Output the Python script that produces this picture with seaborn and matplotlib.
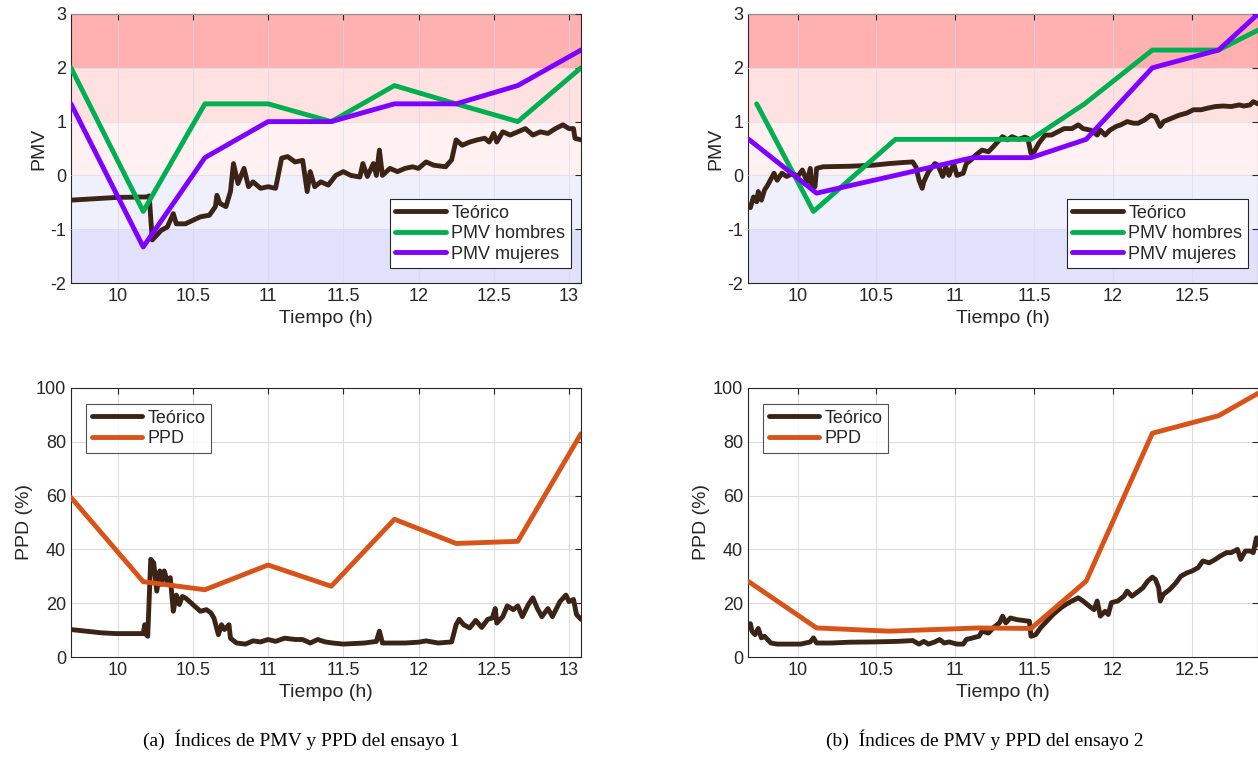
import numpy as np
import pandas as pd
import matplotlib
matplotlib.use("Agg")
import matplotlib.pyplot as plt
import seaborn as sns

# ---- ensayo 1 ----
t1_votos = [9.69, 10.17, 10.58, 11.0, 11.42, 11.84, 12.25, 12.66, 13.08]
pmv_h1 = [2.0, -0.67, 1.33, 1.33, 1.0, 1.67, 1.33, 1.0, 2.0]
pmv_m1 = [1.33, -1.33, 0.33, 1.0, 1.0, 1.33, 1.33, 1.67, 2.33]
ppd1 = [59.3, 28.0, 25.0, 34.2, 26.3, 51.2, 42.2, 43.0, 83.0]

t1_teo = [9.69, 9.99, 10.2, 10.21, 10.23, 10.29, 10.33, 10.37, 10.39, 10.45, 10.55, 10.61,
          10.65, 10.66, 10.68, 10.72, 10.75, 10.77, 10.8, 10.84, 10.87, 10.9, 10.95, 11.0,
          11.05, 11.09, 11.13, 11.18, 11.23, 11.26, 11.28, 11.31, 11.35, 11.4, 11.45, 11.5,
          11.55, 11.61, 11.63, 11.66, 11.7, 11.72, 11.74, 11.76, 11.81, 11.86, 11.91, 11.96,
          12.0, 12.05, 12.1, 12.18, 12.22, 12.25, 12.29, 12.34, 12.39, 12.44, 12.47, 12.5,
          12.52, 12.56, 12.61, 12.66, 12.71, 12.76, 12.81, 12.86, 12.91, 12.96, 13.0, 13.03,
          13.04, 13.08]
pmv_teo1 = [-0.46, -0.41, -0.40, -0.38, -1.2, -1.02, -0.96, -0.71, -0.9, -0.9, -0.77, -0.74,
            -0.58, -0.37, -0.52, -0.58, -0.3, 0.22, -0.15, 0.13, -0.21, -0.12, -0.24, -0.21,
            -0.24, 0.32, 0.35, 0.25, 0.28, -0.3, 0.07, -0.21, -0.12, -0.18, 0.0, 0.07,
            0.0, -0.03, 0.22, -0.02, 0.22, 0.0, 0.47, 0.0, 0.13, 0.07, 0.13, 0.16,
            0.13, 0.25, 0.19, 0.16, 0.29, 0.66, 0.56, 0.62, 0.66, 0.69, 0.62, 0.78,
            0.62, 0.81, 0.75, 0.81, 0.87, 0.75, 0.81, 0.78, 0.87, 0.94, 0.87, 0.87,
            0.69, 0.66]

t1_teo_ppd = [9.69, 9.89, 9.99, 10.17, 10.18, 10.19, 10.2, 10.22, 10.24, 10.26, 10.28, 10.29,
              10.31, 10.33, 10.35, 10.37, 10.39, 10.41, 10.43, 10.45, 10.5, 10.55, 10.59, 10.62,
              10.64, 10.67, 10.69, 10.71, 10.74, 10.75, 10.79, 10.85, 10.9, 10.95, 11.0, 11.05,
              11.11, 11.18, 11.23, 11.28, 11.33, 11.38, 11.43, 11.5, 11.64, 11.72, 11.74, 11.76,
              11.81, 11.91, 12.0, 12.05, 12.13, 12.22, 12.25, 12.27, 12.3, 12.34, 12.38, 12.42,
              12.46, 12.49, 12.51, 12.52, 12.56, 12.59, 12.63, 12.66, 12.69, 12.73, 12.76, 12.79,
              12.82, 12.86, 12.89, 12.94, 12.98, 13.0, 13.03, 13.05, 13.08]
ppd_teo1 = [10.2, 9.0, 8.7, 8.7, 12.0, 8.3, 7.7, 36.3, 35.0, 24.5, 32.0, 27.0,
            32.0, 28.0, 29.5, 17.0, 23.0, 19.5, 22.5, 22.0, 19.5, 17.0, 17.6, 16.4,
            14.5, 8.3, 12.0, 10.2, 12.0, 7.0, 5.2, 4.8, 6.0, 5.6, 6.5, 5.8,
            7.0, 6.5, 6.5, 5.2, 6.5, 5.6, 5.2, 4.8, 5.2, 5.8, 9.6, 5.2,
            5.2, 5.2, 5.5, 6.0, 5.2, 5.6, 12.0, 14.0, 12.0, 10.8, 13.6, 11.0,
            14.0, 14.5, 18.0, 12.6, 15.0, 19.0, 17.6, 19.0, 15.0, 19.5, 22.0, 18.0,
            15.0, 18.0, 15.0, 20.6, 23.0, 20.6, 21.4, 15.8, 14.0]

# ---- ensayo 2 ----
t2_h = [9.74, 10.1, 10.62, 11.48, 11.82, 12.25, 12.67, 12.92]
pmv_h2 = [1.33, -0.67, 0.67, 0.67, 1.33, 2.33, 2.33, 2.7]
t2_m = [9.69, 10.12, 10.62, 11.11, 11.48, 11.83, 12.25, 12.67, 12.92]
pmv_m2 = [0.67, -0.33, 0.0, 0.33, 0.33, 0.67, 2.0, 2.33, 3.0]
t2_ppd = [9.69, 10.12, 10.58, 11.15, 11.48, 11.83, 12.25, 12.67, 12.92]
ppd2 = [28.0, 10.8, 9.6, 10.8, 10.6, 28.2, 83.2, 89.7, 98.0]

t2_teo = [9.7, 9.72, 9.74, 9.75, 9.77, 9.79, 9.81, 9.85, 9.87, 9.9, 9.93, 9.97,
          10.0, 10.03, 10.06, 10.08, 10.09, 10.11, 10.12, 10.16, 10.33, 10.48, 10.58, 10.67,
          10.73, 10.75, 10.77, 10.79, 10.8, 10.83, 10.87, 10.89, 10.92, 10.94, 10.96, 10.99,
          11.01, 11.05, 11.07, 11.1, 11.13, 11.17, 11.21, 11.24, 11.28, 11.3, 11.33, 11.36,
          11.4, 11.44, 11.46, 11.48, 11.5, 11.53, 11.57, 11.61, 11.65, 11.69, 11.74, 11.78,
          11.81, 11.86, 11.9, 11.92, 11.95, 11.98, 12.02, 12.05, 12.09, 12.13, 12.16, 12.2,
          12.24, 12.27, 12.3, 12.32, 12.37, 12.42, 12.47, 12.51, 12.56, 12.6, 12.65, 12.7,
          12.75, 12.8, 12.83, 12.87, 12.89, 12.92]
pmv_teo2 = [-0.6, -0.4, -0.49, -0.3, -0.46, -0.27, -0.18, 0.04, -0.09, 0.04, -0.02, 0.04,
            -0.02, 0.1, -0.12, 0.13, -0.21, -0.21, 0.13, 0.16, 0.17, 0.19, 0.22, 0.24,
            0.25, 0.16, -0.09, -0.24, -0.12, 0.07, 0.22, 0.19, -0.02, 0.16, 0.0, 0.22,
            0.0, 0.04, 0.22, 0.29, 0.38, 0.47, 0.44, 0.53, 0.66, 0.72, 0.66, 0.72,
            0.67, 0.71, 0.69, 0.41, 0.44, 0.6, 0.75, 0.75, 0.81, 0.87, 0.87, 0.94,
            0.87, 0.84, 0.75, 0.84, 0.75, 0.84, 0.91, 0.94, 1.0, 0.97, 0.97, 1.03,
            1.12, 1.09, 0.91, 1.0, 1.06, 1.12, 1.16, 1.22, 1.22, 1.25, 1.28, 1.29,
            1.28, 1.31, 1.29, 1.31, 1.37, 1.33]

t2_teo_ppd = [9.7, 9.71, 9.73, 9.75, 9.77, 9.79, 9.83, 9.87, 9.95, 10.02, 10.08, 10.1,
              10.12, 10.21, 10.33, 10.48, 10.63, 10.73, 10.77, 10.8, 10.83, 10.87, 10.9, 10.93,
              10.96, 11.01, 11.05, 11.07, 11.11, 11.15, 11.17, 11.21, 11.24, 11.28, 11.3, 11.32,
              11.35, 11.39, 11.44, 11.47, 11.48, 11.51, 11.54, 11.58, 11.62, 11.67, 11.7, 11.74,
              11.78, 11.81, 11.85, 11.88, 11.9, 11.92, 11.95, 11.97, 11.99, 12.03, 12.07, 12.09,
              12.12, 12.15, 12.19, 12.22, 12.25, 12.27, 12.29, 12.3, 12.32, 12.36, 12.4, 12.43,
              12.47, 12.5, 12.54, 12.57, 12.61, 12.65, 12.68, 12.72, 12.75, 12.79, 12.81, 12.84,
              12.87, 12.89, 12.91, 12.92]
ppd_teo2 = [12.4, 9.6, 8.3, 10.6, 7.1, 7.7, 5.2, 4.8, 4.8, 4.8, 5.6, 7.1,
            5.2, 5.2, 5.5, 5.6, 5.8, 6.1, 4.8, 5.8, 4.8, 5.6, 6.5, 5.2,
            5.6, 4.8, 4.8, 6.5, 7.1, 7.7, 9.6, 8.9, 10.8, 12.7, 15.2, 12.7,
            14.5, 13.9, 13.5, 13.3, 7.7, 8.3, 10.8, 13.3, 15.8, 18.3, 19.5, 20.8,
            22.0, 20.8, 18.9, 17.6, 20.8, 15.2, 17.0, 15.8, 20.2, 20.8, 22.6, 24.5,
            22.6, 23.9, 25.7, 28.2, 29.7, 28.8, 25.7, 20.8, 23.3, 25.1, 27.6, 30.0,
            31.3, 31.9, 33.2, 35.7, 35.0, 36.3, 37.5, 38.8, 38.8, 40.0, 36.3, 39.4,
            39.4, 38.8, 44.3, 41.8]

xlims = [(9.69, 13.08), (9.685, 12.92)]
xticks = [[10, 10.5, 11, 11.5, 12, 12.5, 13], [10, 10.5, 11, 11.5, 12, 12.5]]
captions = ["(a)  Índices de PMV y PPD del ensayo 1", "(b)  Índices de PMV y PPD del ensayo 2"]

c_teo = "#3b2416"
c_h = "#00b050"
c_m = "#7f00ff"
c_ppd = "#d95319"
gray = "#262626"

sns.set_style("white")
plt.rcParams["font.family"] = ["Liberation Sans", "DejaVu Sans"]
plt.rcParams["axes.unicode_minus"] = False

fig = plt.figure(figsize=(12.58, 7.83), dpi=100)
lefts = [71 / 1258, 748 / 1258]
w = 510 / 1258
h = 269 / 783
ax_top = [fig.add_axes([l, 1 - 283 / 783, w, h]) for l in lefts]
ax_bot = [fig.add_axes([l, 1 - 657 / 783, w, h]) for l in lefts]

bands = [(2, 3, "#ffb0b0"), (1, 2, "#ffe1e1"), (0, 1, "#fff1f1"),
         (-1, 0, "#f0f0fd"), (-2, -1, "#e1e1fb")]

series = [
    (t1_teo, pmv_teo1, t1_votos, pmv_h1, t1_votos, pmv_m1, t1_teo_ppd, ppd_teo1, t1_votos, ppd1),
    (t2_teo, pmv_teo2, t2_h, pmv_h2, t2_m, pmv_m2, t2_teo_ppd, ppd_teo2, t2_ppd, ppd2),
]


def style(ax, i, ylim, yticks):
    ax.set_xlim(*xlims[i])
    ax.set_ylim(*ylim)
    ax.set_xticks(xticks[i])
    ax.set_xticklabels([f"{v:g}" for v in xticks[i]])
    ax.set_yticks(yticks)
    ax.grid(True, color="#dcdcdc", lw=0.8)
    ax.set_axisbelow(False)
    ax.tick_params(direction="in", colors=gray, labelsize=13, length=4, top=True, right=True,
                   labeltop=False, labelright=False)
    for s in ax.spines.values():
        s.set_color(gray)
        s.set_linewidth(0.8)
    ax.set_xlabel("Tiempo (h)", fontsize=14, color=gray, labelpad=4)


for i in range(2):
    tt, pt, th, ph, tm, pm, ttp, ppt, tp, pp = series[i]
    ax = ax_top[i]
    for lo, hi, c in bands:
        ax.axhspan(lo, hi, color=c, lw=0, zorder=0)
    sns.lineplot(x=tt, y=pt, ax=ax, color=c_teo, lw=3.5, label="Teórico", zorder=3)
    sns.lineplot(x=th, y=ph, ax=ax, color=c_h, lw=3.5, label="PMV hombres", zorder=4)
    sns.lineplot(x=tm, y=pm, ax=ax, color=c_m, lw=3.5, label="PMV mujeres", zorder=5)
    style(ax, i, (-2, 3), [-2, -1, 0, 1, 2, 3])
    ax.set_ylabel("PMV", fontsize=14, color=gray, labelpad=2)
    ax.grid(True, color="#d8d8e8", lw=0.8, alpha=0.6)
    leg = ax.legend(loc="lower right", bbox_to_anchor=(0.98, 0.055), fontsize=13,
                    frameon=True, fancybox=False, borderpad=0.3, labelspacing=0.2,
                    handlelength=2.8, handletextpad=0.3, borderaxespad=0)
    leg.get_frame().set_edgecolor(gray)
    leg.get_frame().set_linewidth(0.8)
    leg.get_frame().set_alpha(1)

    ax = ax_bot[i]
    sns.lineplot(x=ttp, y=ppt, ax=ax, color=c_teo, lw=3.5, label="Teórico", zorder=3)
    sns.lineplot(x=tp, y=pp, ax=ax, color=c_ppd, lw=3.5, label="PPD", zorder=4)
    style(ax, i, (0, 100), [0, 20, 40, 60, 80, 100])
    ax.set_axisbelow(True)
    ax.set_ylabel("PPD (%)", fontsize=14, color=gray, labelpad=2)
    leg = ax.legend(loc="upper left", bbox_to_anchor=(0.03, 0.94), fontsize=13,
                    frameon=True, fancybox=False, borderpad=0.3, labelspacing=0.2,
                    handlelength=2.8, handletextpad=0.3, borderaxespad=0)
    leg.get_frame().set_edgecolor(gray)
    leg.get_frame().set_linewidth(0.8)

for x, txt in zip([301 / 1258, 985 / 1258], captions):
    fig.text(x, 1 - 740 / 783, txt, ha="center", va="center", fontsize=14,
             family=["Liberation Serif", "DejaVu Serif"], color="black")

fig.savefig("out.png", dpi=100)
